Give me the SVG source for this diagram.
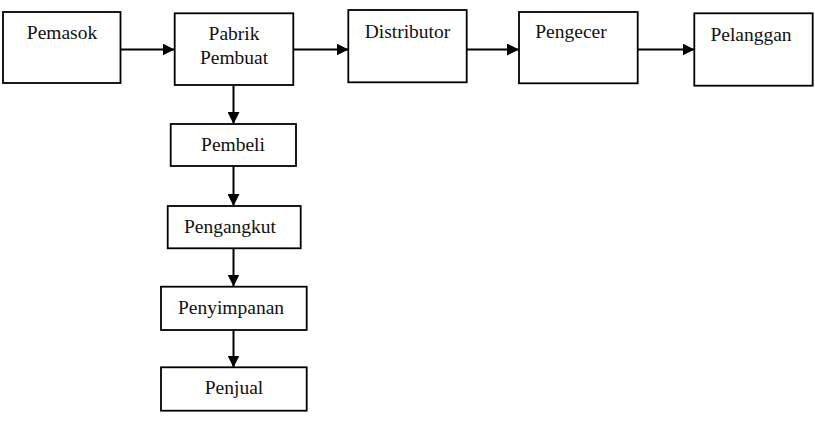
<svg xmlns="http://www.w3.org/2000/svg" width="815" height="426" viewBox="0 0 815 426">
  <defs>
    <marker id="arrow" viewBox="0 0 12 12" refX="12" refY="6" markerWidth="12" markerHeight="12" markerUnits="userSpaceOnUse" orient="auto">
      <path d="M0,0 L12,6 L0,12 Z" fill="#000"/>
    </marker>
  </defs>
  <style>
    .box { fill: #fff; stroke: #000; stroke-width: 1.8; }
    .link { fill: none; stroke: #000; stroke-width: 2; marker-end: url(#arrow); }
  </style>
  <rect width="815" height="426" fill="#fff"/>

  <g id="connectors">
    <path class="link" d="M120.5,49.5 H174.5"/>
    <path class="link" d="M293.5,49.5 H348.5"/>
    <path class="link" d="M467,49.5 H519"/>
    <path class="link" d="M638,49.5 H694.5"/>
    <path class="link" d="M233.5,85 V124"/>
    <path class="link" d="M233.5,166 V206"/>
    <path class="link" d="M233.5,248.5 V286.5"/>
    <path class="link" d="M233.5,330 V367.5"/>
  </g>

  <g id="pemasok">
    <rect class="box" x="3" y="12" width="117.5" height="71"/>
    <text font-family="Liberation Serif" font-size="19.5" fill="#111" text-anchor="middle" x="62" y="38.5">Pemasok</text>
  </g>
  <g id="pabrik-pembuat">
    <rect class="box" x="174.7" y="13.3" width="118.6" height="71.7"/>
    <text font-family="Liberation Serif" font-size="19.5" fill="#111" text-anchor="middle" x="234" y="40">Pabrik</text>
    <text font-family="Liberation Serif" font-size="19.5" fill="#111" text-anchor="middle" x="234" y="63.5">Pembuat</text>
  </g>
  <g id="distributor">
    <rect class="box" x="348.3" y="10" width="118.4" height="72.3"/>
    <text font-family="Liberation Serif" font-size="19.5" fill="#111" text-anchor="middle" x="407.5" y="37.5">Distributor</text>
  </g>
  <g id="pengecer">
    <rect class="box" x="519" y="12" width="118.7" height="71.3"/>
    <text font-family="Liberation Serif" font-size="19.5" fill="#111" text-anchor="middle" x="571" y="38">Pengecer</text>
  </g>
  <g id="pelanggan">
    <rect class="box" x="694.3" y="13.3" width="118.4" height="72.4"/>
    <text font-family="Liberation Serif" font-size="19.5" fill="#111" text-anchor="middle" x="751" y="40.5">Pelanggan</text>
  </g>
  <g id="pembeli">
    <rect class="box" x="170.7" y="124" width="125.3" height="42"/>
    <text font-family="Liberation Serif" font-size="19.5" fill="#111" text-anchor="middle" x="233" y="150.5">Pembeli</text>
  </g>
  <g id="pengangkut">
    <rect class="box" x="167.7" y="206" width="133" height="42.3"/>
    <text font-family="Liberation Serif" font-size="19.5" fill="#111" text-anchor="middle" x="230" y="232.5">Pengangkut</text>
  </g>
  <g id="penyimpanan">
    <rect class="box" x="161" y="286.7" width="145.7" height="43.3"/>
    <text font-family="Liberation Serif" font-size="19.5" fill="#111" text-anchor="middle" x="231" y="314">Penyimpanan</text>
  </g>
  <g id="penjual">
    <rect class="box" x="161" y="367.3" width="145.7" height="43.4"/>
    <text font-family="Liberation Serif" font-size="19.5" fill="#111" text-anchor="middle" x="234" y="394">Penjual</text>
  </g>
</svg>
